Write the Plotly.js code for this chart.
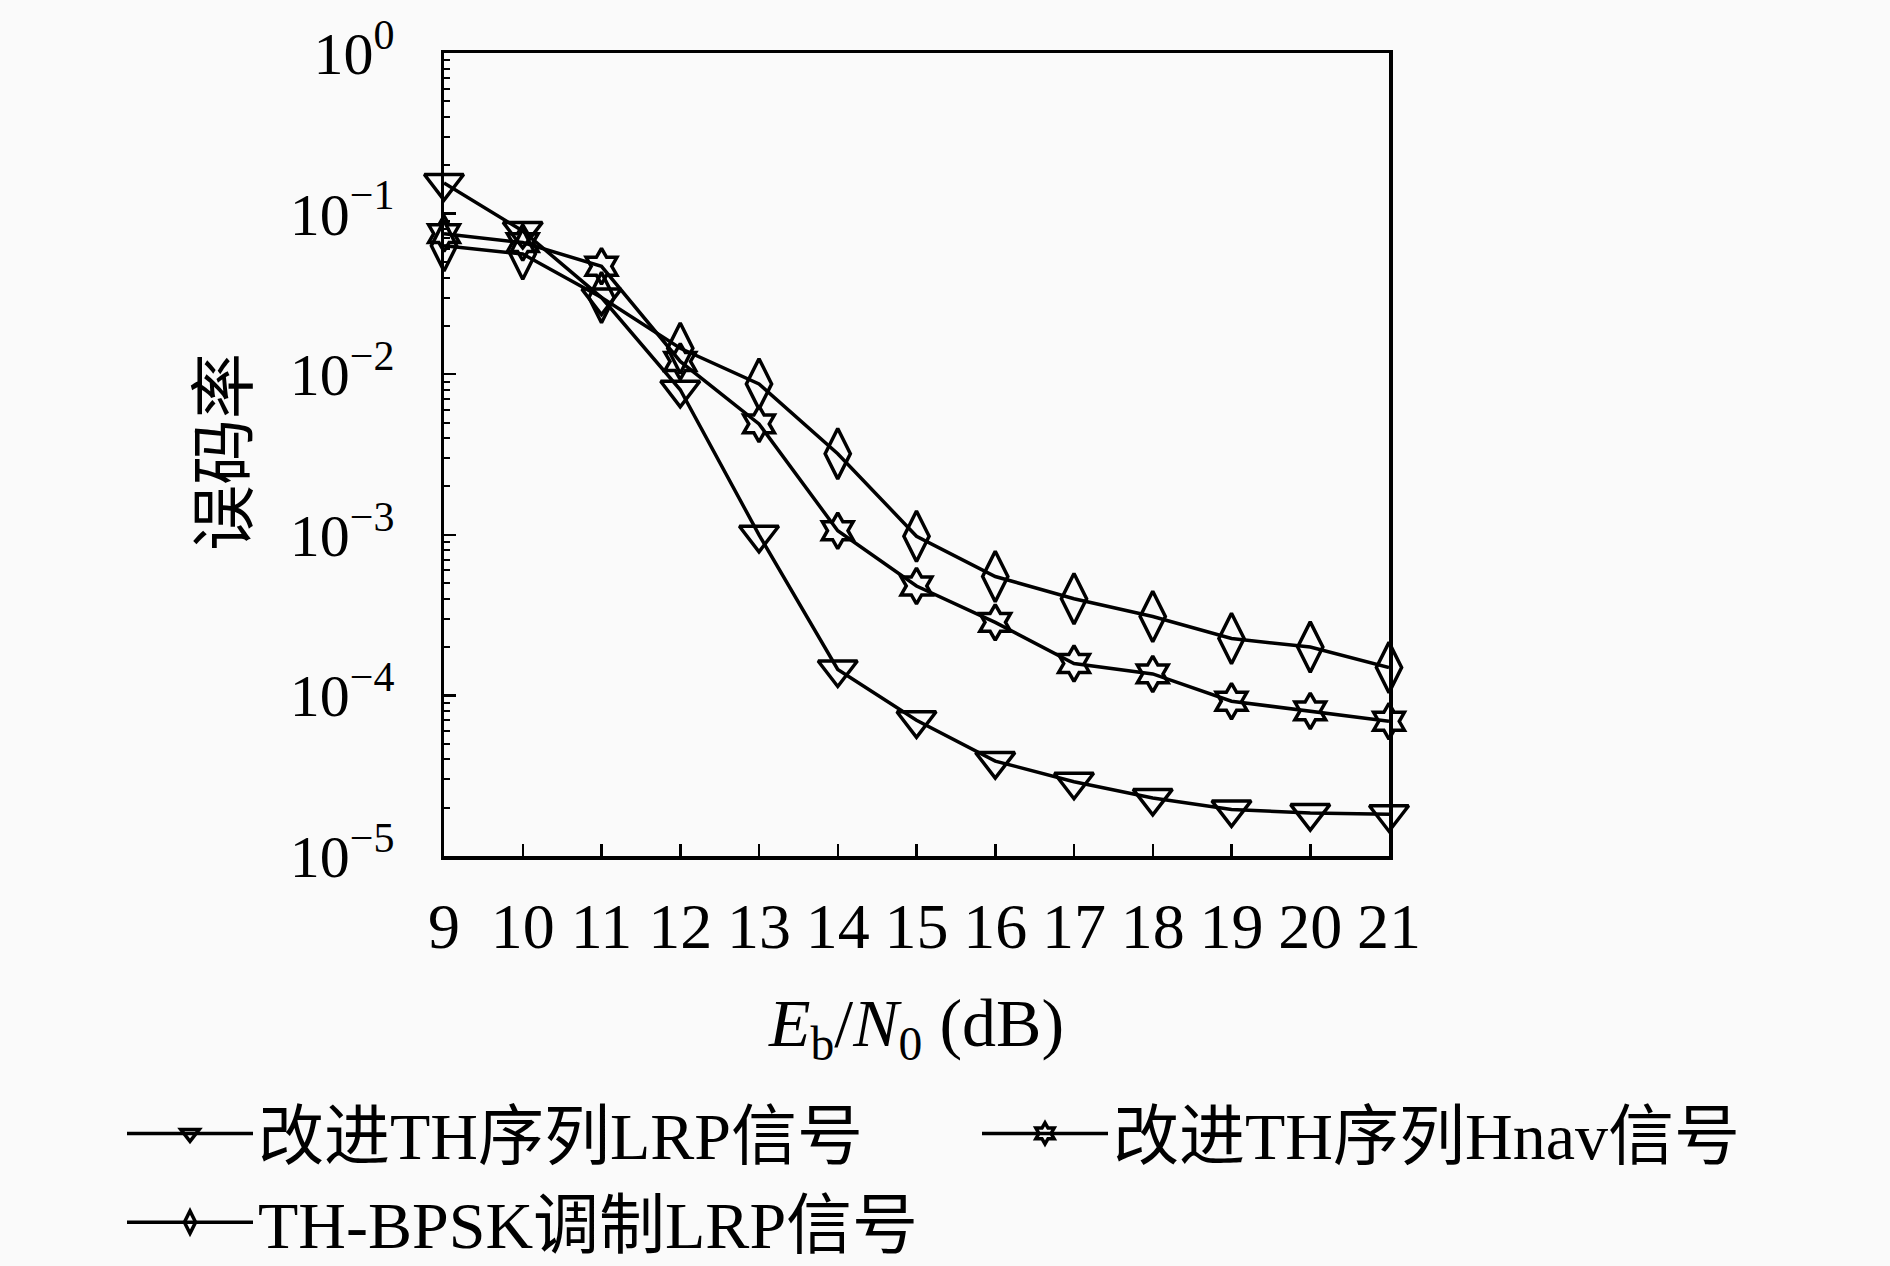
<!DOCTYPE html>
<html>
<head>
<meta charset="utf-8">
<script src="https://cdn.plot.ly/plotly-3.0.1.min.js"></script>
<style>
  html, body { margin: 0; padding: 0; background: #fafafa; }
  #chart { width: 1890px; height: 1266px; }
</style>
</head>
<body>
<div id="chart"></div>
<script>
// Eb/N0 (dB)
const ebn0 = [9, 10, 11, 12, 13, 14, 15, 16, 17, 18, 19, 20, 21];

// bit error rate
const berThLrp  = [0.155, 0.078, 0.030, 0.0080, 0.00100, 1.45e-4, 7.0e-5, 3.9e-5, 2.9e-5, 2.3e-5, 1.95e-5, 1.85e-5, 1.82e-5];
const berThHnav = [0.075, 0.066, 0.047, 0.0120, 0.0049, 1.06e-3, 4.8e-4, 2.85e-4, 1.58e-4, 1.36e-4, 9.2e-5, 8.0e-5, 6.9e-5];
const berBpsk   = [0.063, 0.056, 0.030, 0.0145, 0.0087, 3.2e-3, 9.8e-4, 5.5e-4, 4.0e-4, 3.1e-4, 2.26e-4, 2.0e-4, 1.49e-4];

const seriesNames = ['改进TH序列LRP信号', '改进TH序列Hnav信号', 'TH-BPSK调制LRP信号'];

const yTickVals = [1, 1e-1, 1e-2, 1e-3, 1e-4, 1e-5];
const yTickText = ['10<sup>0</sup>', '10<sup>−1</sup>', '10<sup>−2</sup>', '10<sup>−3</sup>', '10<sup>−4</sup>', '10<sup>−5</sup>'];

// minor ticks on the log axis (2..9 in each decade)
const yMinor = [];
for (let e = -5; e < 0; e++) {
  for (let m = 2; m <= 9; m++) yMinor.push(m * Math.pow(10, e));
}

const serif = 'Liberation Serif, DejaVu Serif, serif';
const cjk = 'Liberation Serif, Noto Sans CJK SC, serif';

function lineTrace(y, name, symbol, size, legendId) {
  return {
    x: ebn0, y: y, name: name, legend: legendId,
    type: 'scatter', mode: 'lines+markers',
    cliponaxis: false,
    line: { color: '#000', width: 3.5 },
    marker: { symbol: symbol, size: size, color: '#000', line: { color: '#000', width: 3.5 } }
  };
}

const traces = [
  lineTrace(berThLrp, seriesNames[0], 'triangle-down-open', 34, 'legend'),
  lineTrace(berThHnav, seriesNames[1], 'hexagram-open', 27, 'legend2'),
  lineTrace(berBpsk, seriesNames[2], 'diamond-tall-open', 36, 'legend')
];

const legendBase = {
  orientation: 'v',
  xref: 'container', yref: 'container',
  xanchor: 'left', yanchor: 'top',
  itemwidth: 126,
  bgcolor: 'rgba(0,0,0,0)',
  font: { family: cjk, size: 66, color: '#000' }
};

const layout = {
  width: 1890, height: 1266,
  paper_bgcolor: '#fafafa',
  plot_bgcolor: '#fafafa',
  margin: { l: 444, r: 501, t: 53, b: 410, autoexpand: false },
  font: { family: serif, color: '#000', size: 60 },
  showlegend: true,
  xaxis: {
    range: [9, 21],
    tickvals: ebn0,
    ticks: 'inside', ticklen: 12, tickwidth: 2.5, tickcolor: '#000',
    showline: true, linecolor: '#000', linewidth: 3.5, mirror: true,
    showgrid: false, zeroline: false,
    ticklabelstandoff: 12,
    tickfont: { family: serif, size: 64, color: '#000' },
    title: {
      text: '<i>E</i><sub>b</sub>/<i>N</i><sub>0</sub> (dB)',
      font: { family: serif, size: 68, color: '#000' },
      standoff: 38
    }
  },
  yaxis: {
    type: 'log',
    range: [-5, 0],
    tickmode: 'array', tickvals: yTickVals, ticktext: yTickText,
    ticks: 'inside', ticklen: 12, tickwidth: 2.5, tickcolor: '#000',
    minor: { tickmode: 'array', tickvals: yMinor, ticks: 'inside', ticklen: 6, tickwidth: 2, tickcolor: '#000' },
    showline: true, linecolor: '#000', linewidth: 3.5, mirror: true,
    showgrid: false, zeroline: false,
    ticklabelstandoff: 34,
    tickfont: { family: serif, size: 60, color: '#000' }
  },
  annotations: [{
    text: '误码率',
    xref: 'paper', yref: 'paper',
    x: (218 - 444) / 945, y: (856 - 452) / 803,
    xanchor: 'center', yanchor: 'middle',
    textangle: -90, showarrow: false,
    font: { family: 'Noto Sans CJK SC, sans-serif', size: 66, color: '#000' }
  }],
  legend: Object.assign({}, legendBase, { x: 122 / 1890, y: 1 - 1084 / 1266 }),
  legend2: Object.assign({}, legendBase, { x: 977 / 1890, y: 1 - 1084 / 1266 })
};

Plotly.newPlot('chart', traces, layout, { displayModeBar: false, staticPlot: true });
</script>
</body>
</html>
